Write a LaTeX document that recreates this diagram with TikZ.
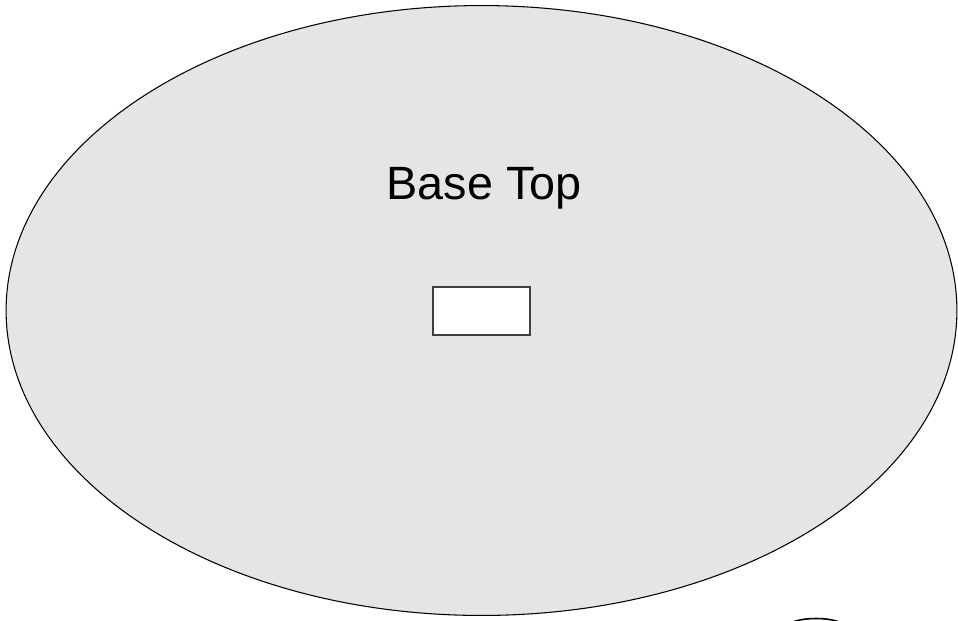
\documentclass[tikz,border=0pt]{standalone}
\usepackage{fontspec}
\setmainfont{Liberation Sans}
\usepackage{xcolor}
\usepackage{tikz}
\usetikzlibrary{shapes,positioning,calc}

\definecolor{basegray}{RGB}{229,229,229}

\begin{document}
\begin{tikzpicture}[
    x=0.02cm, y=-0.02cm,
    base/.style={ellipse, draw, fill=basegray, line width=0.6pt, inner sep=0pt, minimum width=19.02cm, minimum height=12.2cm},
    hole/.style={rectangle, draw=black!75, fill=white, line width=0.6pt, inner sep=0pt, minimum width=1.94cm, minimum height=0.96cm},
    label/.style={font=\fontsize{26.6}{30}\selectfont, inner sep=0pt, anchor=base}
]
\useasboundingbox (0,0) rectangle (958,620);

\node[base] (basetop) at (481.5,310.5) {};
\node[hole] (opening) at (481.5,311) {};
\node[label] (title) at (484,199) {Base Top};

% part of a second piece, cut off at the lower edge
\begin{scope}
\clip (0,0) rectangle (958,620);
\node[ellipse, draw, line width=0.9pt, fill=white, minimum width=1.12cm, minimum height=0.32cm, inner sep=0pt] (foot) at (816,626.5) {};
\end{scope}

\end{tikzpicture}
\end{document}
